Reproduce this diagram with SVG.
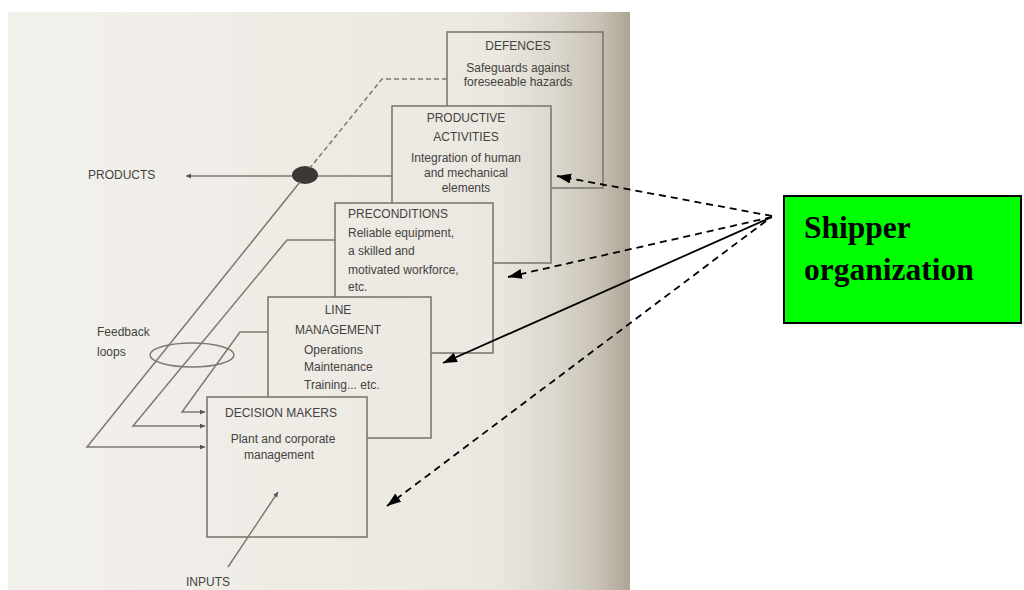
<svg xmlns="http://www.w3.org/2000/svg" width="1024" height="590" viewBox="0 0 1024 590">
  <defs>
    <linearGradient id="page" gradientUnits="userSpaceOnUse" x1="8" y1="0" x2="630" y2="0">
      <stop offset="0" stop-color="#f3f1ec"/>
      <stop offset="0.78" stop-color="#ebe8e1"/>
      <stop offset="0.88" stop-color="#dcd7cd"/>
      <stop offset="0.95" stop-color="#c8c2b5"/>
      <stop offset="1" stop-color="#aca595"/>
    </linearGradient>
    <marker id="bigHead" markerUnits="userSpaceOnUse" markerWidth="16" markerHeight="12" refX="14" refY="5" orient="auto">
      <path d="M0,0 L14,5 L0,10 z" fill="#000"/>
    </marker>
    <marker id="smallHead" markerUnits="userSpaceOnUse" markerWidth="6" markerHeight="6" refX="5" refY="2.5" orient="auto">
      <path d="M0,0 L5,2.5 L0,5 z" fill="#555"/>
    </marker>
    <style>
      .box { fill: url(#page); stroke: #7d7872; stroke-width: 1.6; }
      .txt { font-family: "Liberation Sans", Arial, sans-serif; font-size: 12px; fill: #44423f; }
      .mid { text-anchor: middle; }
      .wire { fill: none; stroke: #7d7872; stroke-width: 1.5; }
      .wireDash { fill: none; stroke: #7d7872; stroke-width: 1.5; stroke-dasharray: 5 3; }
      .pointer { fill: none; stroke: #000; stroke-width: 1.8; }
      .dash { stroke-dasharray: 7 5; }
      .label { font-family: "Liberation Serif", "Times New Roman", serif; font-weight: bold; font-size: 31.5px; fill: #000; }
    </style>
  </defs>

  <!-- page background -->
  <rect x="0" y="0" width="1024" height="590" fill="#ffffff"/>
  <rect x="8" y="12" width="622" height="578" fill="url(#page)"/>

  <!-- free labels -->
  <text class="txt" x="88" y="179">PRODUCTS</text>
  <text class="txt" x="97" y="336">Feedback</text>
  <text class="txt" x="97" y="356">loops</text>
  <text class="txt mid" x="208" y="586">INPUTS</text>

  <!-- layered boxes, back to front -->
  <g id="defences">
    <rect class="box" x="447" y="32" width="156" height="156"/>
    <text class="txt mid" x="518" y="50">DEFENCES</text>
    <text class="txt mid" x="518" y="72">Safeguards against</text>
    <text class="txt mid" x="518" y="86">foreseeable hazards</text>
  </g>
  <g id="productive">
    <rect class="box" x="392" y="106" width="159" height="157"/>
    <text class="txt mid" x="466" y="122">PRODUCTIVE</text>
    <text class="txt mid" x="466" y="141">ACTIVITIES</text>
    <text class="txt mid" x="466" y="162">Integration of human</text>
    <text class="txt mid" x="466" y="177">and mechanical</text>
    <text class="txt mid" x="466" y="192">elements</text>
  </g>
  <g id="preconditions">
    <rect class="box" x="335" y="203" width="158" height="150"/>
    <text class="txt" x="348" y="218">PRECONDITIONS</text>
    <text class="txt" x="348" y="237">Reliable equipment,</text>
    <text class="txt" x="348" y="255">a skilled and</text>
    <text class="txt" x="348" y="274">motivated workforce,</text>
    <text class="txt" x="348" y="291">etc.</text>
  </g>
  <g id="line-management">
    <rect class="box" x="268" y="297" width="163" height="141"/>
    <text class="txt mid" x="338" y="314">LINE</text>
    <text class="txt mid" x="338" y="334">MANAGEMENT</text>
    <text class="txt" x="304" y="354">Operations</text>
    <text class="txt" x="304" y="371">Maintenance</text>
    <text class="txt" x="304" y="389">Training... etc.</text>
  </g>
  <g id="decision-makers">
    <rect class="box" x="207" y="397" width="160" height="140"/>
    <text class="txt mid" x="281" y="417">DECISION MAKERS</text>
    <text class="txt mid" x="283" y="443">Plant and corporate</text>
    <text class="txt mid" x="279" y="459">management</text>
  </g>

  <g id="shipper">
    <rect x="784" y="196" width="237" height="127" fill="#00ff00" stroke="#000" stroke-width="2"/>
    <text class="label" x="804" y="238">Shipper</text>
    <text class="label" x="804" y="280">organization</text>
  </g>

  <g id="connectors">
    <!-- products outflow -->
    <path class="wire" d="M392,176 H186" marker-end="url(#smallHead)"/>
    <ellipse cx="305" cy="175" rx="13" ry="9" fill="#3b3936"/>
    <!-- outer loop: defences -> blob -> decision makers -->
    <path class="wireDash" d="M447,79 H382 L310,168"/>
    <path class="wire" d="M300,182 L87,447 H205" marker-end="url(#smallHead)"/>
    <!-- middle loop from preconditions -->
    <path class="wire" d="M335,240 H287 L133,426 H205" marker-end="url(#smallHead)"/>
    <!-- inner loop from line management -->
    <path class="wire" d="M268,332 H240 L182,412 H205" marker-end="url(#smallHead)"/>
    <!-- feedback loops ring -->
    <ellipse cx="192" cy="355" rx="42" ry="12" fill="none" stroke="#7d7872" stroke-width="1.5"/>
    <!-- inputs -->
    <path class="wire" d="M228,567 L278,492" marker-end="url(#smallHead)"/>

    <!-- pointers from the shipper label -->
    <path class="pointer dash" d="M772,216 L557,176" marker-end="url(#bigHead)"/>
    <path class="pointer dash" d="M772,217 L508,277" marker-end="url(#bigHead)"/>
    <path class="pointer" d="M772,217 L443,363" marker-end="url(#bigHead)"/>
    <path class="pointer dash" d="M766,221 L387,506" marker-end="url(#bigHead)"/>
  </g>
</svg>
